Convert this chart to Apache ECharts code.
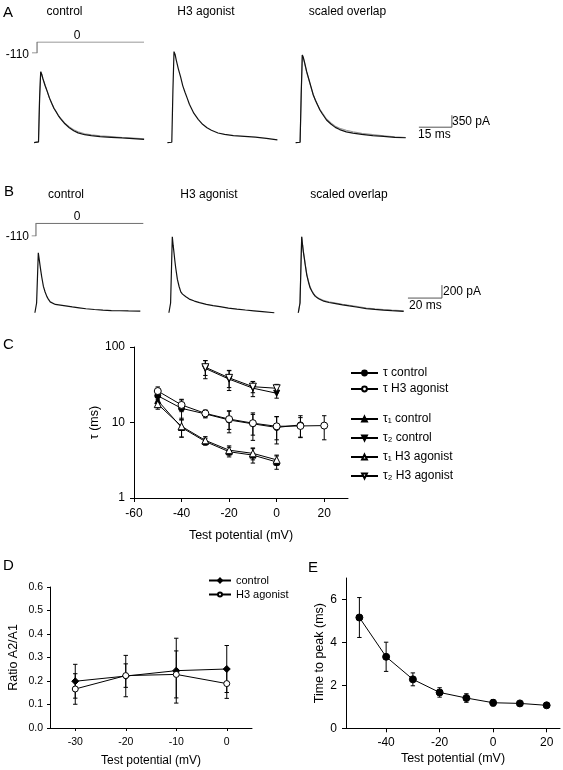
<!DOCTYPE html>
<html><head><meta charset="utf-8">
<script src="https://cdn.jsdelivr.net/npm/echarts@6/dist/echarts.min.js"></script>
<style>html,body{margin:0;padding:0;background:#fff}#c{width:563px;height:770px}</style>
</head><body><div id="c"></div>
<script>
// ---------- Panel A traces (time in ms, current in pA) ----------
const timeA = [0, 2, 2.5, 3, 3.5, 4, 5, 6, 7, 8, 9, 10, 11, 12, 14, 16, 18, 20, 23, 26, 30, 35, 40, 45, 50];
const controlA = [0, 20, 1300, 2070, 1990, 1870, 1670, 1490, 1300, 1150, 1005, 900, 790, 700, 550, 435, 345, 285, 230, 205, 173, 155, 135, 116, 96];
const controlFitA = [0, 20, 1300, 2070, 1990, 1870, 1670, 1490, 1300, 1150, 1010, 905, 800, 715, 570, 460, 375, 315, 260, 230, 200, 175, 150, 130, 110];
const agonistA = [0, 10, 1500, 2660, 2580, 2420, 2150, 1920, 1660, 1470, 1300, 1120, 990, 860, 680, 535, 432, 360, 280, 240, 203, 183, 160, 125, 80];
const overlapCtrlA = [0, 10, 1400, 2560, 2470, 2330, 2050, 1830, 1600, 1390, 1240, 1100, 975, 875, 690, 575, 480, 420, 360, 315, 270, 235, 200, 170, 150];
const overlapAgoA = [0, 10, 1400, 2560, 2480, 2350, 2075, 1850, 1620, 1392, 1230, 1090, 954, 850, 661, 545, 445, 380, 315, 275, 238, 205, 180, 155, 142];
const scaleBarAT = [56, 71, 71];
const scaleBarAI = [450, 450, 800];
const protoAT = [-1, 1.3, 1.3, 50];
const protoAV = [-110, -110, 0, 0];

// ---------- Panel B traces ----------
const timeB = [0, 1, 2, 2.5, 3, 3.5, 4, 5, 6, 7, 8, 9, 10, 12, 15, 18, 22, 26, 30, 35, 40, 45, 50, 55, 62];
const controlB = [0, 150, 923, 830, 734, 640, 554, 405, 320, 252, 205, 167, 145, 128, 117, 106, 90, 76, 62, 50, 40, 34, 31, 28, 26];
const agonistB = [0, 150, 1170, 1040, 923, 800, 693, 513, 404, 322, 287, 260, 245, 210, 180, 156, 130, 110, 95, 72, 55, 42, 30, 18, 0];
const overlapAgoB = [0, 150, 1170, 1040, 930, 845, 750, 580, 470, 380, 330, 285, 252, 215, 178, 158, 140, 122, 105, 85, 63, 51, 41, 32, 22];
const overlapCtrlB = [0, 150, 1170, 1050, 945, 860, 765, 595, 485, 395, 340, 296, 262, 222, 188, 168, 150, 132, 115, 94, 72, 60, 50, 40, 30];
const scaleBarBT = [64.5, 84.5, 84.5];
const scaleBarBI = [226, 226, 426];
const protoBT = [-2, 0.5, 0.5, 63.6];
const protoBV = [-110, -110, 0, 0];

// ---------- Panel C: time constants ----------
const xTau = [-50, -40, -30, -20, -10, 0, 10, 20];
const tauControl = [22.6, 15.4, 13.0, 10.8, 9.6, 8.6, 9.3, null];
const tauControlErr = [4.5, 4.5, 1.5, 3.5, 3.8, 3.4, 3.0, null];
const tauAgonist = [26.1, 17.1, 13.2, 11.1, 9.8, 8.9, 9.0, 9.1];
const tauAgonistErr = [3.5, 3.2, 1.4, 3.0, 3.0, 3.0, 2.6, 3.2];
const xTau1 = [-50, -40, -30, -20, -10, 0];
const tau1Control = [19.5, 8.6, 5.6, 4.1, 3.7, 3.0];
const tau1ControlErr = [3.5, 2.2, 0.6, 0.6, 0.8, 0.6];
const tau1Agonist = [17.5, 8.9, 5.8, 4.3, 3.9, 3.2];
const tau1AgonistErr = [2.5, 2.5, 0.7, 0.6, 0.7, 0.5];
const xTau2 = [-30, -20, -10, 0];
const tau2Control = [52, 37.5, 28.5, 24.4];
const tau2ControlErr = [14, 11, 6.5, 3.4];
const tau2Agonist = [54, 39, 29.8, 28.4];
const tau2AgonistErr = [12, 10, 5, 3.6];
const ticksC = [-60, -40, -20, 0, 20];

// ---------- Panel D: ratio A2/A1 ----------
const xD = [-30, -20, -10, 0];
const ratioControl = [0.199, 0.221, 0.244, 0.251];
const ratioControlErr = [0.072, 0.088, 0.138, 0.10];
const ratioAgonist = [0.166, 0.223, 0.228, 0.189];
const ratioAgonistErr = [0.065, 0.05, 0.10, 0.063];
const ticksD = [-30, -20, -10, 0];

// ---------- Panel E: time to peak ----------
const xE = [-50, -40, -30, -20, -10, 0, 10, 20];
const timeToPeak = [5.16, 3.33, 2.28, 1.67, 1.41, 1.19, 1.16, 1.07];
const timeToPeakErr = [0.93, 0.68, 0.3, 0.22, 0.2, 0.15, 0.06, 0.04];
const ticksEx = [-40, -20, 0, 20];
const ticksEy = [0, 2, 4, 6];

const FONT = "'Liberation Sans', Arial, sans-serif";
const zip = (xs, ys) => xs.map((x, i) => [x, ys[i]]);

// grids
const grids = [
  {left: 34.1, top: 40, width: 110, height: 106},      // 0 A control
  {left: 167.4, top: 40, width: 110, height: 106},     // 1 A H3
  {left: 295.7, top: 40, width: 156.2, height: 106},   // 2 A overlap (+scale bar)
  {left: 32, top: 42, width: 112, height: 11},         // 3 A protocol
  {left: 34.9, top: 228.3, width: 105.4, height: 87.7},// 4 B control
  {left: 168.9, top: 228.3, width: 105.4, height: 87.7},// 5 B H3
  {left: 298.3, top: 228.3, width: 144.5, height: 87.7},// 6 B overlap (+scale bar)
  {left: 31.7, top: 223.3, width: 111.6, height: 12.7},// 7 B protocol
  {left: 134, top: 347, width: 214, height: 151},      // 8 C
  {left: 50, top: 587, width: 202, height: 141},       // 9 D
  {left: 346, top: 578, width: 214, height: 150.3}     // 10 E
];

const hiddenX = (min, max) => ({type: 'value', min, max, show: false});
const hiddenY = (min, max) => ({type: 'value', min, max, show: false});

const axLine = {onZero: false, lineStyle: {color: '#000', width: 1}};
const axTick = (vals, len) => ({length: len || 4, lineStyle: {color: '#000', width: 1}, customValues: vals});

const xAxes = [
  hiddenX(0, 50), hiddenX(0, 50), hiddenX(0, 71), hiddenX(-1, 50),
  hiddenX(0, 62), hiddenX(0, 62), hiddenX(0, 85), hiddenX(-2, 63.6),
  {type: 'value', gridIndex: 8, min: -60, max: 30, axisLine: axLine, axisTick: axTick(ticksC),
   axisLabel: {customValues: ticksC, color: '#000', fontSize: 12, fontFamily: FONT, margin: 10},
   splitLine: {show: false}, name: 'Test potential (mV)', nameLocation: 'middle', nameGap: 31,
   nameTextStyle: {color: '#000', fontSize: 12.5, fontFamily: FONT}},
  {type: 'value', gridIndex: 9, min: -35, max: 5, axisLine: axLine, axisTick: axTick(ticksD, 3),
   axisLabel: {customValues: ticksD, color: '#000', fontSize: 10.5, fontFamily: FONT, margin: 9},
   splitLine: {show: false}, name: 'Test potential (mV)', nameLocation: 'middle', nameGap: 27,
   nameTextStyle: {color: '#000', fontSize: 12, fontFamily: FONT}},
  {type: 'value', gridIndex: 10, min: -55, max: 25, axisLine: axLine, axisTick: axTick(ticksEx),
   axisLabel: {customValues: ticksEx, color: '#000', fontSize: 12, fontFamily: FONT, margin: 8},
   splitLine: {show: false}, name: 'Test potential (mV)', nameLocation: 'middle', nameGap: 24,
   nameTextStyle: {color: '#000', fontSize: 12.5, fontFamily: FONT}}
];
xAxes.forEach((a, i) => { if (a.gridIndex === undefined) a.gridIndex = i; });

const yAxes = [
  hiddenY(-100, 3000), hiddenY(-100, 3000), hiddenY(-100, 3000), hiddenY(-110, 0),
  hiddenY(-50, 1300), hiddenY(-50, 1300), hiddenY(-50, 1300), hiddenY(-110, 0),
  {type: 'log', logBase: 10, gridIndex: 8, min: 1, max: 100, axisLine: {show: true, onZero: false, lineStyle: {color: '#000', width: 1}},
   axisTick: {show: true, length: 4, lineStyle: {color: '#000'}}, minorTick: {show: false},
   axisLabel: {color: '#000', fontSize: 12, fontFamily: FONT, margin: 9}, splitLine: {show: false},
   name: 'τ (ms)', nameLocation: 'middle', nameGap: 26, nameRotate: 90,
   nameTextStyle: {color: '#000', fontSize: 12.5, fontFamily: FONT}},
  {type: 'value', gridIndex: 9, min: 0, max: 0.6, interval: 0.1, axisLine: {show: true, onZero: false, lineStyle: {color: '#000'}},
   axisTick: {show: true, length: 3, lineStyle: {color: '#000'}},
   axisLabel: {color: '#000', fontSize: 10.5, fontFamily: FONT, margin: 7, formatter: v => v.toFixed(1)},
   splitLine: {show: false}, name: 'Ratio A2/A1', nameLocation: 'middle', nameGap: 30, nameRotate: 90,
   nameTextStyle: {color: '#000', fontSize: 12.5, fontFamily: FONT}},
  {type: 'value', gridIndex: 10, min: 0, max: 7, axisLine: {show: true, onZero: false, lineStyle: {color: '#000'}},
   axisTick: {show: true, length: 4, lineStyle: {color: '#000'}, customValues: ticksEy},
   axisLabel: {customValues: ticksEy, color: '#000', fontSize: 12, fontFamily: FONT, margin: 9},
   splitLine: {show: false}, name: 'Time to peak (ms)', nameLocation: 'middle', nameGap: 18, nameRotate: 90,
   nameTextStyle: {color: '#000', fontSize: 12.5, fontFamily: FONT}}
];
yAxes.forEach((a, i) => { if (a.gridIndex === undefined) a.gridIndex = i; });

const trace = (idx, xs, ys, color, width) => ({
  type: 'line', xAxisIndex: idx, yAxisIndex: idx, data: zip(xs, ys), symbol: 'none', silent: true,
  lineStyle: {color, width: width || 1.2}, animation: false, z: color === '#111' ? 3 : 2
});

function errBars(idx, xs, ys, es) {
  const data = [];
  xs.forEach((x, i) => { if (ys[i] != null) data.push([x, ys[i] - es[i], ys[i] + es[i]]); });
  return {
    type: 'custom', xAxisIndex: idx, yAxisIndex: idx, data, silent: true, z: 1,
    encode: {x: 0, y: [1, 2]},
    renderItem: (params, api) => {
      const x = api.value(0);
      const lo = api.coord([x, api.value(1)]);
      const hi = api.coord([x, api.value(2)]);
      const w = 2.2, st = {stroke: '#000', lineWidth: 1};
      return {type: 'group', children: [
        {type: 'line', shape: {x1: lo[0], y1: lo[1], x2: hi[0], y2: hi[1]}, style: st},
        {type: 'line', shape: {x1: lo[0] - w, y1: lo[1], x2: lo[0] + w, y2: lo[1]}, style: st},
        {type: 'line', shape: {x1: hi[0] - w, y1: hi[1], x2: hi[0] + w, y2: hi[1]}, style: st}
      ]};
    }
  };
}

const open = {color: '#fff', borderColor: '#000', borderWidth: 1};
const filled = {color: '#000', borderColor: '#000', borderWidth: 1};
const pointLine = (idx, name, xs, ys, symbol, size, style, rotate) => ({
  type: 'line', name, xAxisIndex: idx, yAxisIndex: idx, data: zip(xs, ys), symbol, symbolSize: size,
  symbolRotate: rotate || 0, showAllSymbol: true, itemStyle: style, lineStyle: {color: '#000', width: 1},
  animation: false, z: 4, emphasis: {disabled: true}
});

const series = [
  // A
  trace(0, timeA, controlFitA, '#999', 1.1),
  trace(0, timeA, controlA, '#111'),
  trace(1, timeA, agonistA, '#111'),
  trace(2, timeA, overlapCtrlA, '#999', 1.1),
  trace(2, timeA, overlapAgoA, '#111'),
  trace(2, scaleBarAT, scaleBarAI, '#555', 1),
  trace(3, protoAT, protoAV, '#777', 1.2),
  // B
  trace(4, timeB, controlB, '#111'),
  trace(5, timeB, agonistB, '#111'),
  trace(6, timeB, overlapCtrlB, '#999', 1.1),
  trace(6, timeB, overlapAgoB, '#111'),
  trace(6, scaleBarBT, scaleBarBI, '#555', 1),
  trace(7, protoBT, protoBV, '#777', 1.2),
  // C error bars
  errBars(8, xTau, tauControl, tauControlErr),
  errBars(8, xTau, tauAgonist, tauAgonistErr),
  errBars(8, xTau1, tau1Control, tau1ControlErr),
  errBars(8, xTau1, tau1Agonist, tau1AgonistErr),
  errBars(8, xTau2, tau2Control, tau2ControlErr),
  errBars(8, xTau2, tau2Agonist, tau2AgonistErr),
  // C series
  pointLine(8, 'τ control', xTau, tauControl, 'circle', 6, filled),
  pointLine(8, 'τ H3 agonist', xTau, tauAgonist, 'circle', 7, open),
  pointLine(8, 'τ₁ control', xTau1, tau1Control, 'triangle', 6, filled),
  pointLine(8, 'τ₂ control', xTau2, tau2Control, 'triangle', 6, filled, 180),
  pointLine(8, 'τ₁ H3 agonist', xTau1, tau1Agonist, 'triangle', 7, open),
  pointLine(8, 'τ₂ H3 agonist', xTau2, tau2Agonist, 'triangle', 7, open, 180),
  // D
  errBars(9, xD, ratioControl, ratioControlErr),
  errBars(9, xD, ratioAgonist, ratioAgonistErr),
  pointLine(9, 'control', xD, ratioControl, 'diamond', 7, filled),
  pointLine(9, 'H3 agonist', xD, ratioAgonist, 'circle', 6, open),
  // E
  errBars(10, xE, timeToPeak, timeToPeakErr),
  pointLine(10, 'time to peak', xE, timeToPeak, 'circle', 7, filled)
];

const txt = (text, x, y, size, align) => ({
  type: 'text', x, y, silent: true,
  style: {text, fill: '#000', font: size + 'px ' + FONT, textAlign: align || 'center', textVerticalAlign: 'middle',
          align: align || 'center', verticalAlign: 'middle'}
});

const graphics = [
  txt('A', 3, 13, 15, 'left'),
  txt('control', 64.5, 12, 12), txt('H3 agonist', 206, 12, 12), txt('scaled overlap', 347.5, 12, 12),
  txt('0', 77, 36, 12), txt('-110', 29, 55, 12, 'right'),
  txt('350 pA', 452, 122, 12, 'left'), txt('15 ms', 418, 135, 12, 'left'),
  txt('B', 4, 192, 15, 'left'),
  txt('control', 66, 195, 12), txt('H3 agonist', 209, 195, 12), txt('scaled overlap', 349, 195, 12),
  txt('0', 77, 217, 12), txt('-110', 29, 237, 12, 'right'),
  txt('200 pA', 443, 292, 12, 'left'), txt('20 ms', 409, 306, 12, 'left'),
  txt('C', 3, 345, 15, 'left'),
  txt('D', 3, 566, 15, 'left'),
  txt('E', 308, 568, 15, 'left')
];

const legTxt = {color: '#000', fontSize: 12, lineHeight: 12, fontFamily: FONT};
const option = {
  animation: false,
  backgroundColor: '#fff',
  grid: grids,
  xAxis: xAxes,
  yAxis: yAxes,
  series,
  graphic: graphics,
  legend: [
    {data: ['τ control', 'τ H3 agonist'], left: 350, top: 367, orient: 'vertical', padding: 0,
     itemWidth: 27, itemHeight: 6, itemGap: 4, textStyle: legTxt, selectedMode: false},
    {data: ['τ₁ control', 'τ₂ control', 'τ₁ H3 agonist', 'τ₂ H3 agonist'], left: 350, top: 413, orient: 'vertical',
     padding: 0, itemWidth: 27, itemHeight: 6, itemGap: 7, textStyle: legTxt, selectedMode: false},
    {data: ['control', 'H3 agonist'], left: 208, top: 575, orient: 'vertical', padding: 0,
     itemWidth: 22, itemHeight: 5, itemGap: 3, textStyle: {color: '#000', fontSize: 11, lineHeight: 10, fontFamily: FONT},
     selectedMode: false}
  ]
};

const chart = echarts.init(document.getElementById('c'), null, {renderer: 'canvas'});
chart.setOption(option);
</script></body></html>
